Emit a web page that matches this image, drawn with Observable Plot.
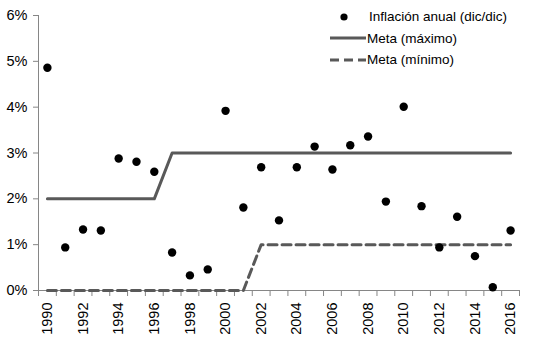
<!DOCTYPE html>
<html><head><meta charset="utf-8">
<script src="https://cdn.jsdelivr.net/npm/d3@7"></script>
<script src="https://cdn.jsdelivr.net/npm/@observablehq/plot@0.6"></script>
<style>
body{margin:0;background:#fff;}
#wrap{position:relative;width:537px;height:349px;font-family:"Liberation Sans",Arial,sans-serif;}
#legend{position:absolute;left:322px;top:6px;font-size:13.5px;color:#000;}
#legend div{display:flex;align-items:center;height:21.5px;}
#legend svg{width:44px;height:12px;flex:none;}
</style>
</head><body>
<div id="wrap"><div id="legend"></div></div>
<script>
const years = d3.range(1990, 2017);
const inflation = [4.86,0.94,1.33,1.31,2.88,2.81,2.59,0.83,0.33,0.46,3.92,1.81,2.69,1.53,2.69,3.14,2.64,3.17,3.36,1.94,4.01,1.84,0.94,1.61,0.75,0.07,1.31];
const metaMax = [2,2,2,2,2,2,2,3,3,3,3,3,3,3,3,3,3,3,3,3,3,3,3,3,3,3,3];
const metaMin = [0,0,0,0,0,0,0,0,0,0,0,0,1,1,1,1,1,1,1,1,1,1,1,1,1,1,1];
const yTicks = [0,1,2,3,4,5,6];
const labelYears = d3.range(1990, 2017, 2);
const legendLabels = ["Inflación anual (dic/dic)","Meta (máximo)","Meta (mínimo)"];

const rows = years.map((y,i)=>({year:y, inf:inflation[i], max:metaMax[i], min:metaMin[i]}));
const bounds = d3.range(years.length+1).map(i=>years[0]-0.5+i);
const axisColor = "#868686";
const lineColor = "#595959";

const chart = Plot.plot({
  width:537, height:349,
  marginLeft:38, marginRight:18, marginTop:15, marginBottom:59,
  style:{fontFamily:"'Liberation Sans', Arial, sans-serif", fontSize:"14.5px", color:"#000", background:"#fff"},
  x:{type:"linear", domain:[years[0]-0.5, years[years.length-1]+0.5]},
  y:{domain:[0,6]},
  marks:[
    Plot.axisY({ticks:yTicks, tickFormat:d=>d+"%", tickSize:5, tickPadding:6, stroke:axisColor, label:null, fill:"#000", fontSize:14.5}),
    Plot.axisX({ticks:bounds, tickFormat:()=>"", tickSize:6, stroke:axisColor, label:null}),
    Plot.axisX({ticks:labelYears, tickFormat:d=>String(d), tickSize:0, tickRotate:-90, tickPadding:12, label:null, fill:"#000", fontSize:14.5}),
    Plot.ruleY([0], {stroke:axisColor}),
    Plot.ruleX([years[0]-0.5], {stroke:axisColor}),
    Plot.line(rows, {x:"year", y:"max", stroke:lineColor, strokeWidth:3}),
    Plot.line(rows, {x:"year", y:"min", stroke:lineColor, strokeWidth:3, strokeDasharray:"9,5"}),
    Plot.dot(rows, {x:"year", y:"inf", r:4.2, fill:"#000", stroke:"none"})
  ]
});
document.getElementById("wrap").prepend(chart);

const lg = document.getElementById("legend");
const samples = [
  `<svg><circle cx="22" cy="6" r="3.6" fill="#000"/></svg>`,
  `<svg><line x1="8" x2="44" y1="6" y2="6" stroke="${lineColor}" stroke-width="3"/></svg>`,
  `<svg><line x1="8" x2="44" y1="6" y2="6" stroke="${lineColor}" stroke-width="3" stroke-dasharray="9,5"/></svg>`
];
legendLabels.forEach((t,i)=>{
  const d = document.createElement("div");
  d.innerHTML = samples[i] + `<span style="margin-left:${i===0?3:1}px">${t}</span>`;
  lg.appendChild(d);
});
</script>
</body></html>
